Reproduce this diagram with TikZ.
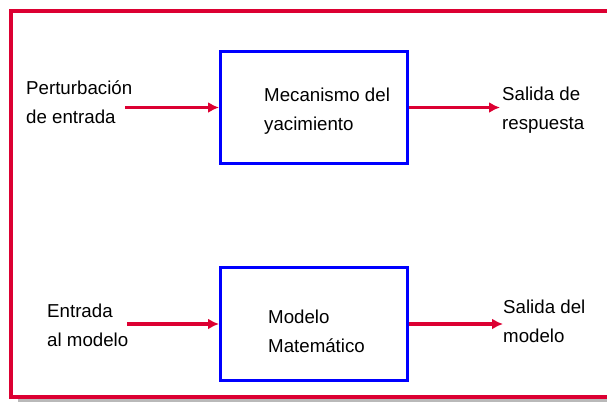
\documentclass[tikz,border=0pt]{standalone}
\usepackage{fontspec}
\setmainfont{Liberation Sans}
\usetikzlibrary{arrows.meta}
\definecolor{framered}{RGB}{220,0,50}

\begin{document}
\begin{tikzpicture}[x=1pt,y=-1pt]
\tikzstyle{block} = [rectangle, draw=blue, line width=3pt,
minimum width=187pt, minimum height=112pt, inner sep=0pt]
\tikzstyle{txt} = [align=left, anchor=base west, inner sep=0pt,
font=\fontsize{18.7}{29}\selectfont]
\tikzstyle{line} = [draw=framered, line width=3.5pt, -{Latex[length=11pt,width=11pt]}];
\useasboundingbox (0,0) rectangle (607,402);
% frame
\draw[gray!55, line width=3pt] (18,400.5) -- (620,400.5);
\draw[framered, line width=3.5pt] (620,11) -- (11,11) -- (11,397) -- (620,397);
% row 1 (base = last line)
\node [txt] (perturbacion) at (26,123) {Perturbación\\de entrada};
\node [block] (mecanismo) at (314,107.5) {};
\node [txt] (mecanismo_txt) at (264,130) {Mecanismo del\\yacimiento};
\node [txt] (respuesta) at (502,129) {Salida de\\respuesta};
% row 2
\node [txt] (entrada) at (47,346) {Entrada\\al modelo};
\node [block, minimum height=113pt] (modelo) at (314,324) {};
\node [txt] (modelo_txt) at (268,352) {Modelo\\Matemático};
\node [txt] (salida) at (503,342) {Salida del\\modelo};
\coordinate (in_pert) at (125,107.5);
\coordinate (out_resp) at (500,107.5);
\coordinate (in_mod) at (127,324);
\coordinate (out_mod) at (503,324);
\tikzstyle{every path}=[line]
\path (in_pert) -- (mecanismo);
\path (mecanismo) -- (out_resp);
\path (in_mod) -- (modelo);
\path (modelo) -- (out_mod);

\end{tikzpicture}
\end{document}
